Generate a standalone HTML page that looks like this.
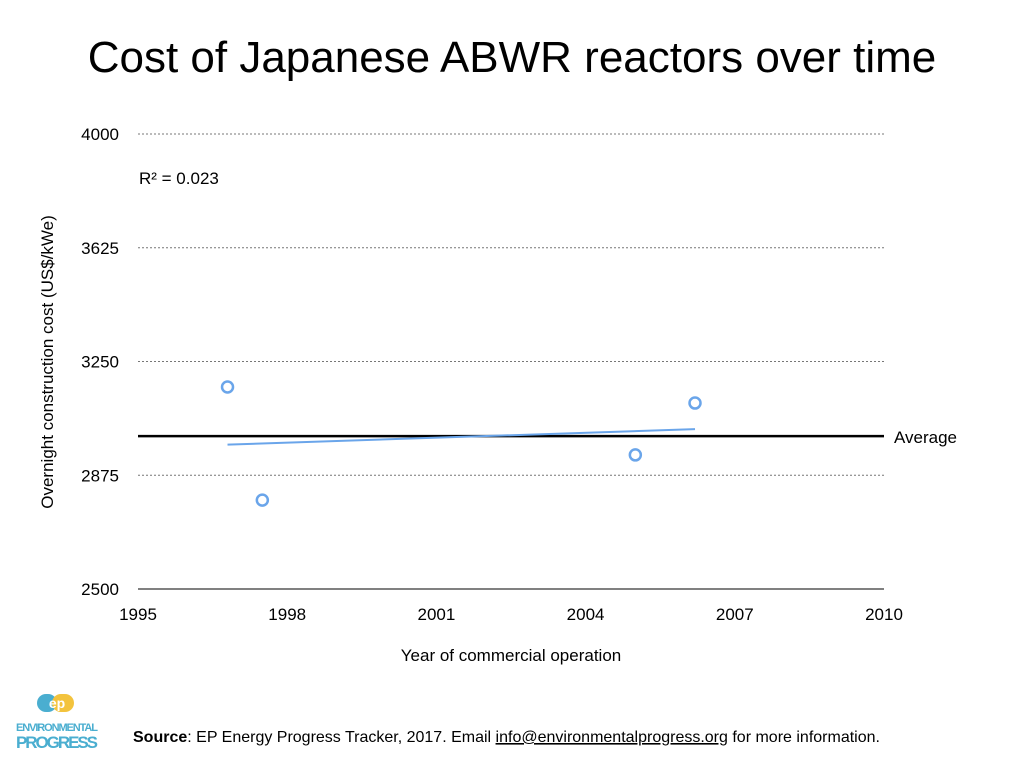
<!DOCTYPE html>
<html><head><meta charset="utf-8"><style>
body{margin:0;background:#fff;width:1024px;height:768px;overflow:hidden;font-family:"Liberation Sans",sans-serif;}
svg text{font-family:"Liberation Sans",sans-serif;}
</style></head><body>
<svg id="c" width="1024" height="768">
<text x="512" y="72" text-anchor="middle" font-size="44" fill="#000">Cost of Japanese ABWR reactors over time</text>
<text x="139" y="184" font-size="17">R² = 0.023</text>
<text transform="translate(53,362) rotate(-90)" text-anchor="middle" font-size="17">Overnight construction cost (US$/kWe)</text>
<text x="511" y="661" text-anchor="middle" font-size="17">Year of commercial operation</text>
<g id="grid"></g><g id="marks"></g>
<g>
<rect x="37" y="694" width="20" height="18" rx="9" fill="#4aaed0"/>
<rect x="52" y="694" width="22" height="18" rx="9" fill="#f3c33d"/>
<text x="57" y="708" font-size="14" font-weight="bold" fill="#fff" text-anchor="middle">ep</text>
<text x="57" y="731" font-size="11" font-weight="bold" fill="#4aaed0" text-anchor="middle" textLength="82">ENVIRONMENTAL</text>
<text x="57" y="748" font-size="17" font-weight="bold" fill="#4aaed0" text-anchor="middle" textLength="82">PROGRESS</text>
</g>
<text x="133" y="742" font-size="16"><tspan font-weight="bold">Source</tspan>: EP Energy Progress Tracker, 2017. Email <tspan text-decoration="underline">info@environmentalprogress.org</tspan> for more information.</text>
</svg>
<script>
const xTicks=[1995,1998,2001,2004,2007,2010];
const yTicks=[2500,2875,3250,3625,4000];
const years=[1996.8,1997.5,2005.0,2006.2];
const costs=[3166,2793,2942,3113];
const averageValue=3004;
const trendYears=[1996.8,2006.2];
const trendValues=[2976,3027];
const ns="http://www.w3.org/2000/svg";
const X=v=>138+(v-1995)*(884-138)/15;
const Y=v=>589-(v-2500)*(589-134)/1500;
function mk(t,a,p){const e=document.createElementNS(ns,t);for(const k in a)e.setAttribute(k,a[k]);p.appendChild(e);return e;}
const g=document.getElementById('grid'),m=document.getElementById('marks');
yTicks.forEach(v=>{
 const l=mk('line',{x1:138,x2:884,y1:Y(v),y2:Y(v),stroke:v===2500?'#000':'#777','stroke-width':1,'stroke-dasharray':v===2500?'':'2,2'},g);
 
 
 const t=mk('text',{x:119,y:Y(v)+6,'text-anchor':'end','font-size':17},g);t.textContent=v;
 
 
});
xTicks.forEach(v=>{
 const t=mk('text',{x:X(v),y:620,'text-anchor':'middle','font-size':17},g);t.textContent=v;
 
 
});
const av=mk('line',{x1:138,x2:884,y1:Y(averageValue),y2:Y(averageValue),stroke:'#000','stroke-width':2.5},m);


const at=mk('text',{x:894,y:Y(averageValue)+7,'font-size':17},m);at.textContent='Average';


const tl=mk('line',{x1:X(trendYears[0]),x2:X(trendYears[1]),y1:Y(trendValues[0]),y2:Y(trendValues[1]),stroke:'#6aa5ea','stroke-width':2},m);


years.forEach((yr,i)=>{
 const c=mk('circle',{cx:X(yr),cy:Y(costs[i]),r:5.5,fill:'#fff',stroke:'#6aa5ea','stroke-width':2.5},m);
 
 
});
</script>
</body></html>
